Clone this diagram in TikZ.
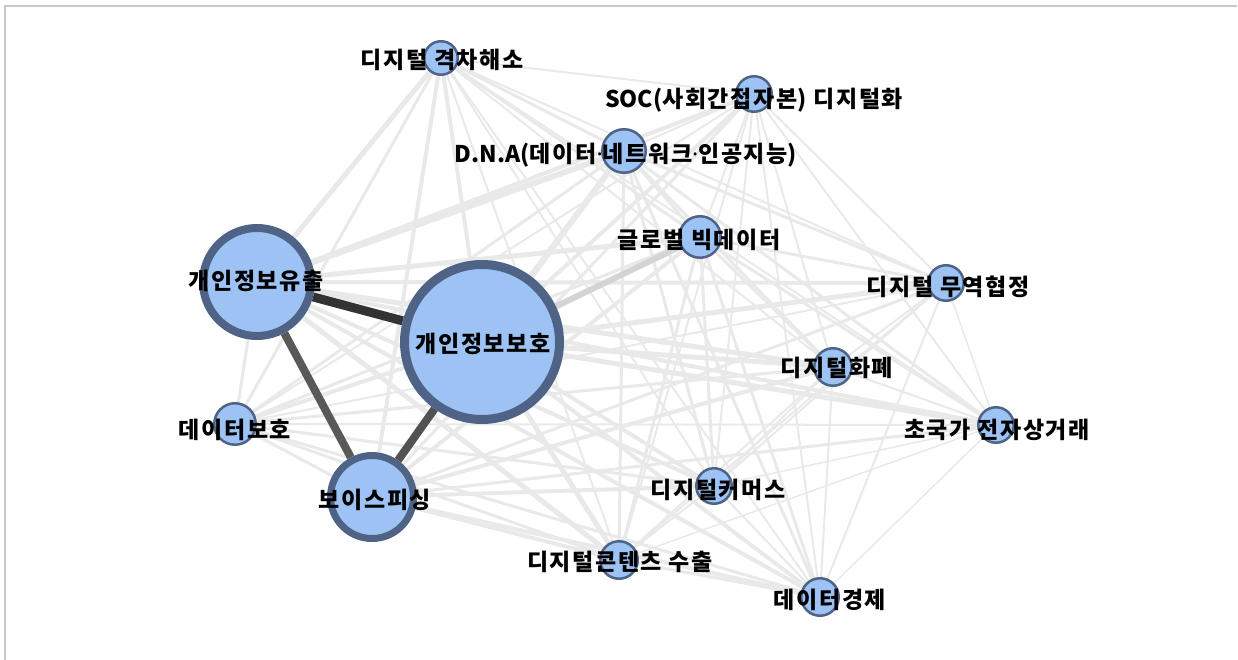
\documentclass[tikz,border=0pt]{standalone}
\usepackage{fontspec}
\newfontfamily\kr{Noto Sans CJK KR}[LetterSpace=7]
\newfontfamily\krn{Noto Sans CJK KR}
\newfontfamily\latdot{Noto Sans}
\newcommand{\mdot}{{\latdot\bfseries ·}}
\newcommand{\lat}[1]{{\krn\bfseries #1}}
\definecolor{nfill}{RGB}{157,195,245}
\definecolor{nedge}{RGB}{78,99,133}
\definecolor{edgec}{RGB}{233,233,233}
\definecolor{framec}{RGB}{200,200,200}
\pgfdeclarelayer{bg}
\pgfsetlayers{bg,main}
\begin{document}
\begin{tikzpicture}[x=1pt,y=-1pt,
  nd/.style={circle, fill=nfill, draw=nedge, line width=2.5pt, inner sep=0pt, minimum size=#1},
  lbl/.style={font=\kr\bfseries\fontsize{23}{23}\selectfont, text=black, inner sep=0pt},
  lite/.style={draw=edgec, line width=#1},
  strong/.style={draw=#1, line width=8pt},
]
\useasboundingbox (0,0) rectangle (1238,660);
\draw[framec, line width=1.5pt] (5,660) -- (5,6) -- (1237,6);
% nodes
\node[nd=108, line width=8pt] (leak) at (257,282) {};
\node[nd=155, line width=9pt] (prot) at (482,342) {};
\node[nd=83, line width=7pt] (phish) at (372,497) {};
\node[nd=41.5] (dprot) at (235,424) {};
\node[nd=33.5] (gap) at (441,58) {};
\node[nd=35.5] (soc) at (754,94) {};
\node[nd=43.5] (dna) at (624,151) {};
\node[nd=41.5] (big) at (700,237) {};
\node[nd=35.5] (trade) at (946,283) {};
\node[nd=37.5] (money) at (833,367) {};
\node[nd=35.5] (cross) at (996,425) {};
\node[nd=35.5] (comm) at (714,486) {};
\node[nd=37.5] (cont) at (619,560) {};
\node[nd=37.5] (econ) at (820,597) {};
% labels
\node[lbl] (leakL) at (256,281) {개인정보유출};
\node[lbl] (protL) at (483,344) {개인정보보호};
\node[lbl] (phishL) at (375,500) {보이스피싱};
\node[lbl] (dprotL) at (235,430) {데이터보호};
\node[lbl] (gapL) at (442,60) {디지털 격차해소};
\node[lbl] (socL) at (754,100) {\lat{SOC(}사회간접자본\lat{)} 디지털화};
\node[lbl] (dnaL) at (626,155) {\lat{D.N.A(}데이터\mdot 네트워크\mdot 인공지능\lat{)}};
\node[lbl] (bigL) at (699,240) {글로벌 빅데이터};
\node[lbl] (tradeL) at (948,287) {디지털 무역협정};
\node[lbl] (moneyL) at (837,368) {디지털화폐};
\node[lbl] (crossL) at (997,430) {초국가 전자상거래};
\node[lbl] (commL) at (718,490) {디지털커머스};
\node[lbl] (contL) at (620,562) {디지털콘텐츠 수출};
\node[lbl] (econL) at (830,600) {데이터경제};
% edges
\begin{pgfonlayer}{bg}
\foreach \a/\b/\w in {
  prot/gap/4, prot/soc/4, prot/dna/6, prot/trade/5, prot/money/5, prot/cross/5, prot/comm/4, prot/cont/5, prot/econ/4, prot/dprot/4,
  leak/gap/5, leak/soc/4, leak/dna/6, leak/big/5, leak/trade/4, leak/money/5, leak/cross/4, leak/comm/4, leak/cont/5, leak/econ/4, leak/dprot/3,
  phish/gap/4, phish/soc/3, phish/dna/4, phish/big/4, phish/trade/3, phish/money/4, phish/cross/3, phish/comm/4, phish/cont/4, phish/econ/4, phish/dprot/3,
  dprot/gap/3, dprot/soc/2, dprot/dna/3, dprot/big/3, dprot/money/3, dprot/comm/3, dprot/cont/3, dprot/econ/3, dprot/trade/2, dprot/cross/2,
  gap/soc/2, gap/dna/3, gap/big/3, gap/money/2, gap/comm/2, gap/cont/2, gap/econ/2, gap/trade/2, gap/cross/2,
  soc/dna/2, soc/big/2, soc/trade/2, soc/money/2, soc/cross/2, soc/comm/2, soc/cont/2, soc/econ/2,
  dna/big/3, dna/trade/3, dna/money/3, dna/cross/3, dna/comm/3, dna/cont/3, dna/econ/3,
  big/trade/3, big/money/3, big/cross/3, big/comm/3, big/cont/3, big/econ/3,
  trade/money/2, trade/cross/1.5, trade/comm/2, trade/cont/2, trade/econ/2,
  money/cross/2, money/comm/2, money/cont/2, money/econ/2,
  cross/comm/1.5, cross/cont/1.5, cross/econ/1.5,
  comm/cont/2, comm/econ/2, cont/econ/3}
  {\draw[lite=\w pt] (\a) -- (\b);}
\draw[draw=black!17, line width=6pt] (prot) -- (big);
\draw[strong=black!65] (leak) -- (phish);
\draw[strong=black!68] (prot) -- (phish);
\draw[strong=black!80, line width=9pt] (leak) -- (prot);
\end{pgfonlayer}
\end{tikzpicture}
\end{document}
